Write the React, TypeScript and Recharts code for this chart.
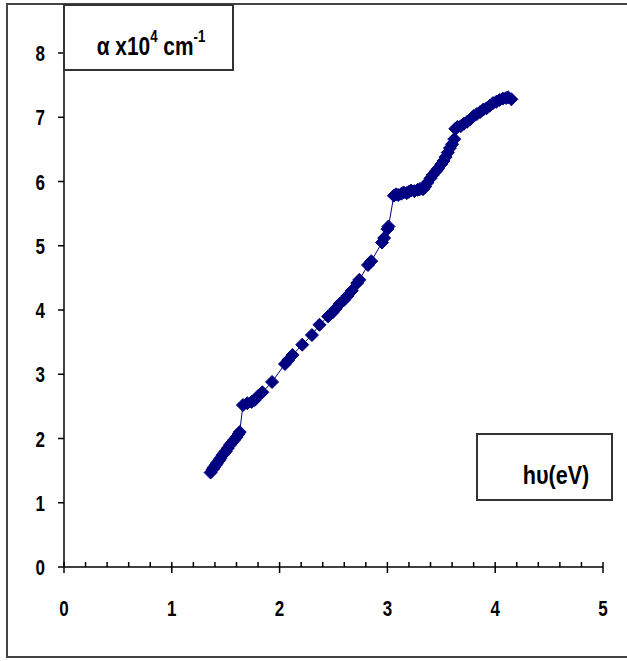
import React from 'react';
import { LineChart, Line, XAxis, YAxis } from 'recharts';

// photon energy hν (eV)
const xValues = [
  1.36, 1.38, 1.39, 1.41, 1.42, 1.44, 1.45, 1.47, 1.49, 1.5, 1.52, 1.54, 1.56, 1.58, 1.6, 1.62, 1.63,
  1.66, 1.7, 1.74, 1.77, 1.8, 1.84, 1.93, 2.05, 2.08, 2.12, 2.21, 2.3, 2.37, 2.45, 2.49, 2.52, 2.56, 2.6,
  2.63, 2.67, 2.72, 2.74, 2.82, 2.85, 2.95, 2.97, 3.0, 3.01,
  3.06, 3.08, 3.1, 3.13, 3.15, 3.18, 3.2, 3.22, 3.25, 3.28, 3.3, 3.33, 3.35, 3.37, 3.4, 3.42, 3.45, 3.47,
  3.5, 3.52, 3.54, 3.56, 3.58, 3.6, 3.62,
  3.63, 3.65, 3.68, 3.71, 3.74, 3.77, 3.8, 3.83, 3.86, 3.89, 3.92, 3.95, 3.98, 4.01, 4.04, 4.07, 4.1, 4.12, 4.15,
];
// absorption coefficient α (x10^4 cm^-1)
const alphaValues = [
  1.47, 1.52, 1.55, 1.59, 1.62, 1.66, 1.69, 1.74, 1.78, 1.8, 1.85, 1.9, 1.94, 1.98, 2.02, 2.07, 2.1,
  2.52, 2.55, 2.57, 2.6, 2.66, 2.72, 2.88, 3.16, 3.22, 3.3, 3.46, 3.61, 3.77, 3.9, 3.96, 4.02, 4.1, 4.16,
  4.22, 4.3, 4.42, 4.47, 4.7, 4.76, 5.05, 5.12, 5.26, 5.3,
  5.78, 5.8, 5.79, 5.81, 5.83, 5.82, 5.84, 5.86, 5.85, 5.87, 5.88, 5.88, 5.92, 5.98, 6.05, 6.1, 6.16, 6.2,
  6.27, 6.32, 6.38, 6.45, 6.52, 6.58, 6.66,
  6.82, 6.85, 6.86, 6.9, 6.93, 6.97, 7.02, 7.05, 7.08, 7.12, 7.14, 7.18, 7.22, 7.24, 7.27, 7.29, 7.3, 7.31, 7.28,
];

const xTicks = [0, 0.2, 0.4, 0.6, 0.8, 1, 1.2, 1.4, 1.6, 1.8, 2, 2.2, 2.4, 2.6, 2.8, 3, 3.2, 3.4, 3.6, 3.8, 4, 4.2, 4.4, 4.6, 4.8, 5];
const yTicks = [0, 1, 2, 3, 4, 5, 6, 7, 8];
const xTitle = 'hυ(eV)';

const data = xValues.map((x, i) => ({ x, y: alphaValues[i] }));

const NAVY = '#000080';
const FONT = '"Liberation Sans", Arial, sans-serif';

const Diamond = (props: any) => {
  const { cx, cy } = props;
  if (cx == null || cy == null) return null;
  const r = 6.5;
  return (
    <polygon
      key={props.key}
      points={`${cx},${cy - r} ${cx + r},${cy} ${cx},${cy + r} ${cx - r},${cy}`}
      fill={NAVY}
      stroke={NAVY}
      strokeWidth={1}
    />
  );
};

const XTick = (props: any) => {
  const { x, y, payload } = props;
  const v = payload.value;
  const major = Math.abs(v - Math.round(v)) < 1e-6;
  return (
    <g>
      <line x1={x} x2={x} y1={y - 5} y2={major ? y + 6 : y} stroke="#000" strokeWidth={1.5} />
      {major && (
        <text
          transform={`translate(${x},${y + 49}) scale(0.85,1.12)`}
          textAnchor="middle"
          fontFamily={FONT}
          fontWeight="bold"
          fontSize={20}
          fill="#000"
        >
          {Math.round(v)}
        </text>
      )}
    </g>
  );
};

const YTick = (props: any) => {
  const { x, y, payload } = props;
  return (
    <g>
      <line x1={x - 6} x2={x} y1={y} y2={y} stroke="#000" strokeWidth={1.5} />
      <text
        transform={`translate(${x - 19},${y + 8}) scale(0.85,1.12)`}
        textAnchor="end"
        fontFamily={FONT}
        fontWeight="bold"
        fontSize={20}
        fill="#000"
      >
        {payload.value}
      </text>
    </g>
  );
};

export default function App() {
  return (
    <div style={{ position: 'absolute', left: 0, top: 0, width: 627, height: 661, overflow: 'hidden', background: '#fff' }}>
      <div style={{ position: 'absolute', left: 0, top: 0 }}>
        <LineChart width={627} height={661} data={data} margin={{ top: 53, right: 24, bottom: 54, left: 0 }}>
          <XAxis
            dataKey="x"
            type="number"
            domain={[0, 5]}
            ticks={xTicks}
            interval={0}
            tickSize={0}
            tickMargin={0}
            tickLine={false}
            tick={<XTick />}
            axisLine={{ stroke: '#000', strokeWidth: 1.5 }}
            height={40}
            allowDataOverflow
          />
          <YAxis
            type="number"
            domain={[0, 8]}
            ticks={yTicks}
            interval={0}
            tickSize={0}
            tickMargin={0}
            tickLine={false}
            tick={<YTick />}
            axisLine={{ stroke: '#000', strokeWidth: 1.5 }}
            width={64}
            allowDataOverflow
          />
          <Line
            dataKey="y"
            type="linear"
            stroke={NAVY}
            strokeWidth={1}
            dot={Diamond}
            activeDot={false}
            isAnimationActive={false}
          />
        </LineChart>
      </div>
      <svg width={627} height={661} style={{ position: 'absolute', left: 0, top: 0, pointerEvents: 'none' }}>
        <rect x={7} y={4} width={660} height={653} fill="none" stroke="#444" strokeWidth={2} />
        <rect x={64} y={5} width={169} height={65} fill="#fff" stroke="#333" strokeWidth={2} />
        <text
          transform="translate(151,55) scale(0.95,1.15)"
          textAnchor="middle"
          fontFamily={FONT}
          fontWeight="bold"
          fontSize={22}
          fill="#000"
        >
          α x10<tspan dy={-11} fontSize={14}>4</tspan>
          <tspan dy={11}> cm</tspan>
          <tspan dy={-11} fontSize={14}>-1</tspan>
        </text>
        <rect x={477} y={434} width={135} height={66} fill="#fff" stroke="#333" strokeWidth={2} />
        <text
          transform="translate(556,484) scale(0.9,1.1)"
          textAnchor="middle"
          fontFamily={FONT}
          fontWeight="bold"
          fontSize={24}
          fill="#000"
        >
          {xTitle}
        </text>
      </svg>
    </div>
  );
}
